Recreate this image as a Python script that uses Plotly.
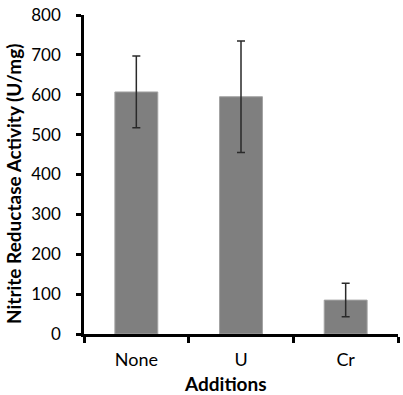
import plotly.graph_objects as go

categories = ["None", "U", "Cr"]
activity = [607, 595, 85]
errors = [90, 140, 42]
y_ticks = [0, 100, 200, 300, 400, 500, 600, 700, 800]

fig = go.Figure()
fig.add_trace(go.Bar(
    x=categories,
    y=activity,
    width=0.41,
    marker=dict(color="#7f7f7f", line=dict(color="#a3a3a3", width=1)),
    error_y=dict(type="data", array=errors, visible=True,
                 color="#2a2a2a", thickness=1.5, width=4),
))

font_family = "Lato, Open Sans, Liberation Sans, Arial, sans-serif"
fig.update_layout(
    width=403, height=395,
    margin=dict(l=84, r=5, t=15, b=61, autoexpand=False),
    paper_bgcolor="white", plot_bgcolor="white",
    showlegend=False,
    font=dict(family=font_family, size=18, color="black"),
    xaxis=dict(
        range=[-0.5, 2.5], automargin=False,
        showline=True, linecolor="black", linewidth=2.5,
        ticks="outside", tickson="boundaries", ticklen=6, tickwidth=2.5, tickcolor="black",
        showgrid=False, zeroline=False,
        tickfont=dict(size=18),
        ticklabelstandoff=8,
    ),
    yaxis=dict(
        range=[0, 800], automargin=False,
        tickvals=y_ticks,
        showline=True, linecolor="black", linewidth=2.5,
        ticks="outside", ticklen=5, tickwidth=2.5, tickcolor="black",
        showgrid=False, zeroline=False,
        tickfont=dict(size=17),
        ticklabelstandoff=12,
    ),
    annotations=[
        dict(text="<b>Additions</b>", xref="paper", yref="paper",
             x=(225 - 84) / 314, y=-(383 - 334) / 319,
             xanchor="center", yanchor="middle", showarrow=False,
             font=dict(size=19)),
        dict(text="<b>Nitrite Reductase Activity (U/mg)</b>", xref="paper", yref="paper",
             x=-(84 - 13) / 314, y=(334 - 184) / 319, textangle=-90,
             xanchor="center", yanchor="middle", showarrow=False,
             font=dict(size=19)),
    ],
)

fig.write_html("out.html", config={"displayModeBar": False},
               post_script="document.body.style.margin='0';")
